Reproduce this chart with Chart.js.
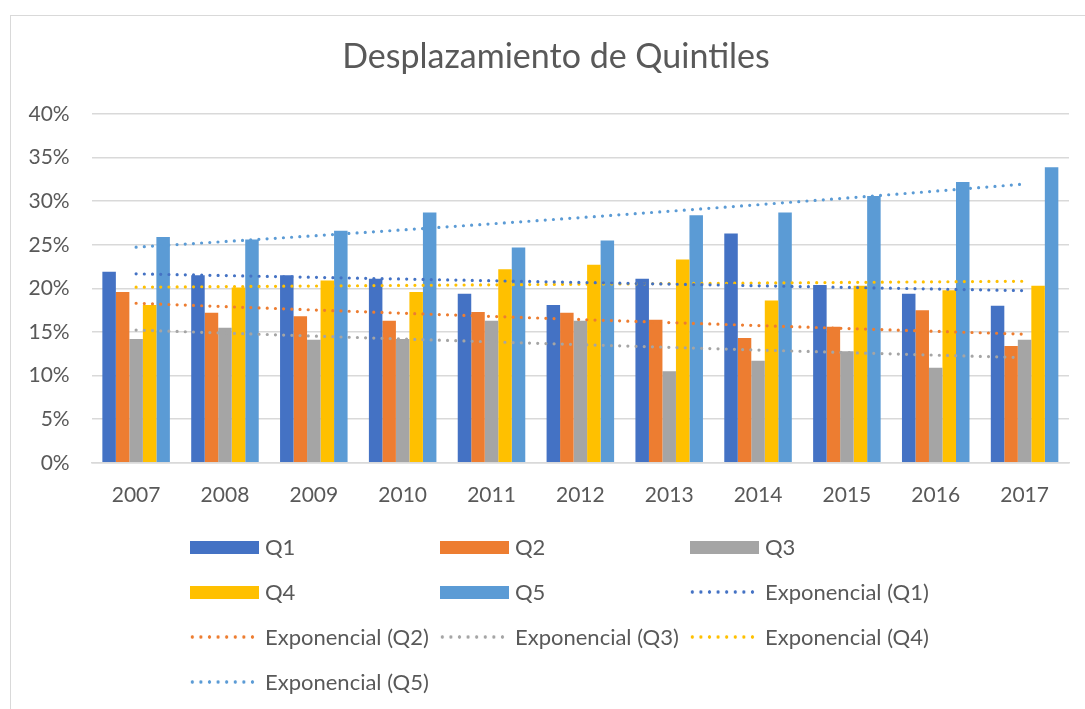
<!DOCTYPE html>
<html>
<head>
<meta charset="utf-8">
<script src="https://cdn.jsdelivr.net/npm/chart.js@4.4.1/dist/chart.umd.min.js"></script>
<style>
  html, body { margin:0; padding:0; background:#fff; overflow:hidden; }
  #wrap { position:relative; width:1085px; height:709px; overflow:hidden; }
  #frame { position:absolute; left:10px; top:15px; width:1200px; height:900px; border:1.5px solid #d9d9d9; box-sizing:border-box; }
  canvas { position:absolute; left:0; top:0; }
  .lg { position:absolute; font-family: Lato, sans-serif; font-size:22px; color:#595959; white-space:nowrap; line-height:26px; }
  .sw { position:absolute; width:69px; height:13px; }
  .dot { position:absolute; width:69px; height:4px; }
</style>
</head>
<body>
<div id="wrap">
  <div id="frame"></div>
  <canvas id="c" width="1102" height="709"></canvas>
  <div id="legend"></div>
</div>
<script>
const years = ['2007','2008','2009','2010','2011','2012','2013','2014','2015','2016','2017'];
const q1 = [21.9, 21.5, 21.5, 21.1, 19.4, 18.1, 21.1, 26.3, 20.4, 19.4, 18.0];
const q2 = [19.6, 17.2, 16.8, 16.3, 17.3, 17.2, 16.4, 14.3, 15.6, 17.5, 13.4];
const q3 = [14.2, 15.5, 14.1, 14.2, 16.3, 16.3, 10.5, 11.7, 12.8, 10.9, 14.1];
const q4 = [18.1, 20.1, 20.9, 19.6, 22.2, 22.7, 23.3, 18.6, 20.3, 19.8, 20.3];
const q5 = [25.9, 25.6, 26.6, 28.7, 24.7, 25.5, 28.4, 28.7, 30.6, 32.2, 33.9];
const seriesNames = ['Q1','Q2','Q3','Q4','Q5'];
const yTicks = [0,5,10,15,20,25,30,35,40];

const colors = ['#4472C4','#ED7D31','#A5A5A5','#FFC000','#5B9BD5'];
const allSeries = [q1,q2,q3,q4,q5];

// Exponential least-squares trendline (as Excel "Exponencial")
function expFit(arr){
  const n = arr.length;
  let sx=0, sy=0, sxx=0, sxy=0;
  arr.forEach((v,i)=>{ const x=i+1, y=Math.log(v); sx+=x; sy+=y; sxx+=x*x; sxy+=x*y; });
  const b = (n*sxy - sx*sy)/(n*sxx - sx*sx);
  const a = (sy - b*sx)/n;
  return arr.map((v,i)=>Math.exp(a + b*(i+1)));
}

const FONT = 'Lato, sans-serif';
const TXT = '#595959';

const datasets = [];
allSeries.forEach((s,i)=>{
  datasets.push({
    type:'bar', label:seriesNames[i], data:s, backgroundColor:colors[i],
    borderWidth:0, categoryPercentage:0.76, barPercentage:1.0, order:2, yAxisID:'y'
  });
});
allSeries.forEach((s,i)=>{
  datasets.push({
    type:'line', label:'Exponencial ('+seriesNames[i]+')', data:expFit(s),
    borderColor:colors[i], borderWidth:3.2, borderDash:[0,8.2], borderCapStyle:'round',
    pointRadius:0, fill:false, tension:0, order:1, yAxisID:'y'
  });
});

new Chart(document.getElementById('c'), {
  data:{ labels:years, datasets },
  options:{
    responsive:false, animation:false,
    layout:{ padding:{ left:10, right:0, top:21, bottom:181 } },
    plugins:{
      legend:{ display:false },
      tooltip:{ enabled:false },
      title:{ display:true, text:'Desplazamiento de Quintiles', color:TXT,
        font:{ family:FONT, size:34, weight:'normal' }, padding:{ top:15.6, bottom:36.6 } }
    },
    scales:{
      x:{
        grid:{ display:false, drawTicks:false },
        border:{ display:true, color:'#d9d9d9', width:1.5 },
        ticks:{ color:TXT, font:{ family:FONT, size:21 }, padding:20, maxRotation:0 }
      },
      y:{
        position:'left', min:0, max:40,
        afterBuildTicks:(sc)=>{ sc.ticks = yTicks.map(v=>({value:v})); },
        afterFit:(sc)=>{ sc.width = 81.7; },
        grid:{ color:'#d9d9d9', lineWidth:1.5, drawTicks:false },
        border:{ display:false },
        ticks:{ color:TXT, font:{ family:FONT, size:21 }, padding:22,
          callback:(v)=>v+'%' }
      },
      yRight:{
        position:'right', min:0, max:40, display:true,
        afterFit:(sc)=>{ sc.width = 33; },
        grid:{ display:false, drawTicks:false },
        border:{ display:false },
        ticks:{ display:false }
      }
    }
  }
});

// HTML legend in Excel-like grid (3 columns)
const legendItems = [];
seriesNames.forEach((n,i)=>legendItems.push({label:n, color:colors[i], kind:'bar'}));
seriesNames.forEach((n,i)=>legendItems.push({label:'Exponencial ('+n+')', color:colors[i], kind:'line'}));
const colX = [190, 440, 690];
const rowY = [547, 592, 637, 682];
const lg = document.getElementById('legend');
legendItems.forEach((it,k)=>{
  const cx = colX[k%3], cy = rowY[Math.floor(k/3)];
  const sw = document.createElement('div');
  if (it.kind==='bar') {
    sw.className='sw'; sw.style.left=cx+'px'; sw.style.top=(cy-6.5)+'px'; sw.style.background=it.color;
  } else {
    sw.className='dot'; sw.style.left=(cx-2)+'px'; sw.style.top=(cy-2)+'px';
    sw.style.background='radial-gradient(circle, '+it.color+' 1.4px, rgba(255,255,255,0) 2px) 0 0 / 8.6px 4px repeat-x';
  }
  lg.appendChild(sw);
  const t = document.createElement('div');
  t.className='lg'; t.textContent=it.label; t.style.left=(cx+75)+'px'; t.style.top=(cy-13)+'px';
  lg.appendChild(t);
});
</script>
</body>
</html>
